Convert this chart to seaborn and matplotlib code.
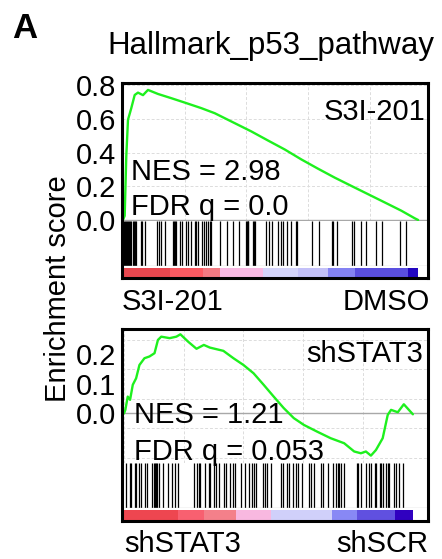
import numpy as np
import pandas as pd
import seaborn as sns
import matplotlib.pyplot as plt

# ---- panel 1: S3I-201 vs DMSO ----
n_genes1 = 23900
es1_rank = [0, 138, 267, 405, 672, 948, 1215, 1620, 2025, 2835, 3912, 4998, 6342, 7428,
            8772, 10392, 11745, 13098, 14442, 15795, 17148, 18492, 19845, 21198, 22542,
            23628, 23900]
es1_score = [0.0, 0.025, 0.378, 0.594, 0.663, 0.741, 0.755, 0.74, 0.771, 0.747, 0.722,
             0.696, 0.663, 0.633, 0.584, 0.525, 0.471, 0.418, 0.359, 0.304, 0.251, 0.202,
             0.153, 0.104, 0.055, 0.010, 0.0]
hits1 = [81, 162, 243, 324, 405, 486, 567, 648, 850, 931, 1012, 1093, 1434, 1563, 1806,
         2730, 2892, 3102, 3378, 4050, 4131, 4212, 4293, 4617, 4779, 5079, 5241, 5484,
         5872, 5953, 6099, 6423, 6561, 6723, 6861, 7047, 7128, 7857, 8400, 8934, 9420,
         9922, 10003, 10084, 10149, 10530, 10611, 10692, 11583, 11850, 12045, 12579,
         12798, 12936, 13260, 13608, 14013, 14118, 15285, 15900, 16905, 17034, 17310,
         18525, 18711, 19254, 19683, 20493, 20955, 22437, 22923]
heat1_edges = [0, 3800, 6500, 7860, 11340, 14200, 16600, 18800, 23090, 23900]
heat1_colors = ['#e8474f', '#fb5a62', '#f27a82', '#f9b9e3', '#d4d4fa', '#c3c0f8',
                '#8482f2', '#5a4fe0', '#2206c0']

# ---- panel 2: shSTAT3 vs shSCR ----
n_genes2 = 24200
es2_rank = [0, 110, 312, 506, 733, 1012, 1290, 1711, 2133, 2554, 2841, 3119, 3819, 4384,
            4721, 5370, 6070, 6685, 7191, 8320, 9163, 10006, 10849, 11693, 12535, 13378,
            14221, 15064, 16186, 17307, 18436, 19279, 19835, 20257, 20678, 21100, 21665,
            22087, 22365, 22930, 23435, 24194]
es2_score = [0.0, 0.012, 0.057, 0.046, 0.097, 0.119, 0.164, 0.187, 0.193, 0.204, 0.249,
             0.26, 0.255, 0.26, 0.268, 0.243, 0.219, 0.232, 0.223, 0.212, 0.187, 0.164,
             0.136, 0.097, 0.057, 0.018, -0.016, -0.039, -0.062, -0.084, -0.101, -0.129,
             -0.135, -0.129, -0.143, -0.124, -0.084, -0.005, 0.012, 0.004, 0.031, -0.003]
hits2 = [194, 481, 615, 927, 1012, 1239, 1458, 1745, 1964, 2301, 2529, 2613, 2698, 2782,
         2925, 3229, 3650, 3987, 4274, 4552, 5901, 6095, 6280, 6382, 6744, 7081, 7225,
         7503, 7697, 7924, 8346, 8540, 8911, 9104, 9332, 9838, 10116, 10453, 10681,
         10875, 11018, 11633, 11777, 11996, 12283, 13126, 13320, 13682, 13825, 14162,
         14390, 14609, 14896, 15452, 15655, 15933, 16498, 16633, 17054, 17476, 17762,
         17897, 18041, 18184, 18462, 19474, 19601, 19871, 20292, 20511, 20714, 20992,
         21135, 21413, 21556, 21691, 21918, 22112, 22197, 22593, 22821, 23039, 23376]
heat2_edges = [0, 4552, 6700, 9357, 12308, 17450, 19473, 22677, 24194]
heat2_colors = ['#ee4650', '#f86070', '#f4808a', '#f8b8e0', '#d0d0fa', '#8888f5',
                '#6050e0', '#3000c0']

sns.set_theme(style='white')
plt.rcParams['font.family'] = ['Liberation Sans', 'DejaVu Sans']
plt.rcParams['text.color'] = 'black'
plt.rcParams['axes.labelcolor'] = 'black'

W, H = 442, 559
fig = plt.figure(figsize=(W / 100, H / 100), dpi=100)


def px_axes(left, top, right, bottom, **kw):
    return fig.add_axes([left / W, (H - bottom) / H, (right - left) / W, (bottom - top) / H], **kw)


def ftext(x, y, s, **kw):
    fig.text(x / W, (H - y) / H, s, color='black', **kw)


def draw_panel(top, es_bottom, hit_bottom, bottom, rank, score, hits, n_genes, xlim,
               ylim, yticks, ygrid, edges, colors):
    left, right = 122, 428
    ax = px_axes(left, top, right, es_bottom)
    df = pd.DataFrame({'rank': rank, 'ES': score})
    for g in range(0, n_genes + 1, 5000):
        ax.axvline(g, color='#dcdcdc', lw=0.7, ls=(0, (3, 2)), zorder=0)
    for g in ygrid:
        ax.axhline(g, color='#dcdcdc', lw=0.7, ls=(0, (3, 2)), zorder=0)
    ax.axhline(0, color='#a8a8a8', lw=1.0, zorder=1)
    sns.lineplot(data=df, x='rank', y='ES', ax=ax, color='#1ef01e', lw=1.7, zorder=3)
    ax.set_xlim(xlim)
    ax.set_ylim(ylim)
    ax.set_yticks(yticks)
    ax.set_yticklabels(['%.1f' % t for t in yticks])
    ax.set_xticks([])
    ax.set_xlabel('')
    ax.set_ylabel('')
    ax.tick_params(axis='y', length=0, pad=4, labelsize=21, labelcolor='black')
    for s in ax.spines.values():
        s.set_visible(False)

    hx = px_axes(left, es_bottom, right, hit_bottom)
    hx.vlines(hits, 0, 1, color='black', lw=0.9)
    hx.set_xlim(xlim)
    hx.set_ylim(0, 1)
    hx.set_xticks([])
    hx.set_yticks([])
    for s in hx.spines.values():
        s.set_visible(False)
    hx.axhline(0, color='#cfcfcf', lw=1.0)

    cx = px_axes(left, hit_bottom, right, bottom)
    for e0, e1, c in zip(edges[:-1], edges[1:], colors):
        cx.axvspan(e0, e1, ymin=0, ymax=0.85, color=c, lw=0)
    cx.set_xlim(xlim)
    cx.set_ylim(0, 1)
    cx.set_xticks([])
    cx.set_yticks([])
    for s in cx.spines.values():
        s.set_visible(False)

    fx = px_axes(left, top, right, bottom, facecolor='none')
    fx.set_xticks([])
    fx.set_yticks([])
    for s in fx.spines.values():
        s.set_visible(True)
        s.set_color('black')
        s.set_linewidth(2.2)
    return ax


draw_panel(83, 221, 266, 278, es1_rank, es1_score, hits1, n_genes1, (-80, 24700),
           (-0.006, 0.812), [0.0, 0.2, 0.4, 0.6, 0.8], [0.2, 0.4, 0.6, 0.8],
           heat1_edges, heat1_colors)
draw_panel(329, 463, 508, 521, es2_rank, es2_score, hits2, n_genes2, (-170, 25460),
           (-0.168, 0.286), [0.0, 0.1, 0.2], [0.25, 0.15, 0.05, -0.05, -0.15],
           heat2_edges, heat2_colors)

fs = 21
ftext(12, 38, 'A', fontsize=25, fontweight='bold', va='baseline')
ftext(107, 54, 'Hallmark_p53_pathway', fontsize=22.5, va='baseline')
ftext(58, 289, 'Enrichment score', fontsize=fs, rotation=90, ha='center', va='center')

ftext(425, 120, 'S3I-201', fontsize=fs, ha='right', va='baseline')
ftext(131, 180, 'NES = 2.98', fontsize=fs, va='baseline')
ftext(131, 215, 'FDR q = 0.0', fontsize=fs, va='baseline')
ftext(122, 310, 'S3I-201', fontsize=fs, va='baseline')
ftext(430, 310, 'DMSO', fontsize=fs, ha='right', va='baseline')

ftext(423, 362, 'shSTAT3', fontsize=fs, ha='right', va='baseline')
ftext(134, 423, 'NES = 1.21', fontsize=fs, va='baseline')
ftext(134, 460, 'FDR q = 0.053', fontsize=fs, va='baseline')
ftext(124, 552, 'shSTAT3', fontsize=fs, va='baseline')
ftext(428, 552, 'shSCR', fontsize=fs, ha='right', va='baseline')

fig.savefig('out.png', dpi=100)
